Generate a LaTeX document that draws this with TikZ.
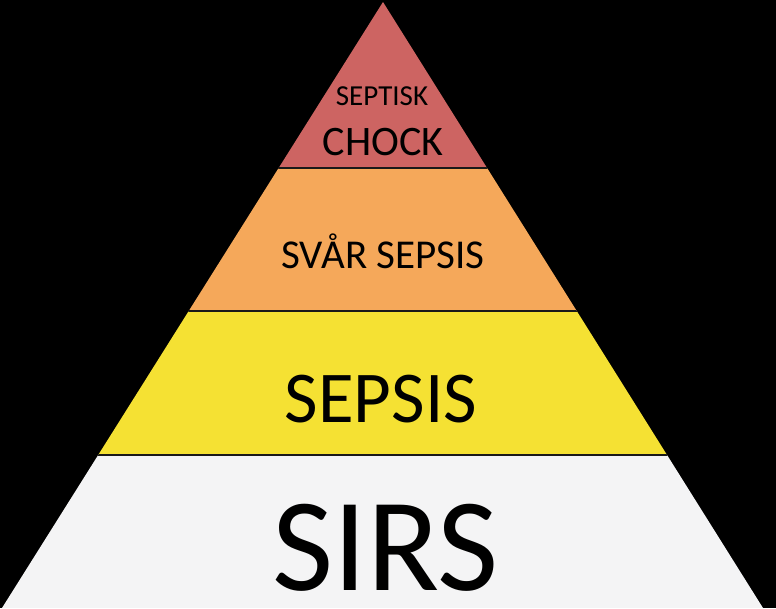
\documentclass[tikz,border=0pt]{standalone}
\usepackage{fontspec}
\setmainfont{Carlito}
\usetikzlibrary{positioning}
\definecolor{chockred}{HTML}{CD6462}
\definecolor{svarorange}{HTML}{F5A85A}
\definecolor{sepsisyellow}{HTML}{F5E133}
\definecolor{sirsgray}{HTML}{F4F4F5}
\tikzset{
    band/.style={draw=none},
    divider/.style={draw=black!90, line width=1.3pt},
    level/.style={anchor=base, text=black, inner sep=0pt, text depth=0pt}
}
\begin{document}
\begin{tikzpicture}[x=1pt, y=-1pt]
    % Background
    \fill[black] (0,0) rectangle (776,608);
    \useasboundingbox (0,0) rectangle (776,608);

    % Corners of the pyramid
    \coordinate (apex) at (383,2);
    \coordinate (bl) at (2,608);
    \coordinate (br) at (763,608);

    \begin{scope}
        \clip (apex) -- (bl) -- (br) -- cycle;
        % Bands
        \fill[band, chockred] (0,0) rectangle (776,168);
        \fill[band, svarorange] (0,168) rectangle (776,311);
        \fill[band, sepsisyellow] (0,311) rectangle (776,455);
        \fill[band, sirsgray] (0,455) rectangle (776,608);
        % Dividers
        \foreach \y in {168, 311, 455}
            \draw[divider] (0,\y) -- (776,\y);
    \end{scope}

    % Labels
    \node (septisk) [level, font=\fontsize{29}{29}\selectfont] at (382,105) {SEPTISK};
    \node (chock) [level, font=\fontsize{42}{42}\selectfont] at (383,155) {CHOCK};
    \node (svar) [level, font=\fontsize{41}{41}\selectfont] at (383,268) {SVÅR SEPSIS};
    \node (sepsis) [level, font=\fontsize{73}{73}\selectfont] at (381,422) {SEPSIS};
    \node (sirs) [level, font=\fontsize{133}{133}\selectfont] at (386,590) {SIRS};
\end{tikzpicture}
\end{document}
